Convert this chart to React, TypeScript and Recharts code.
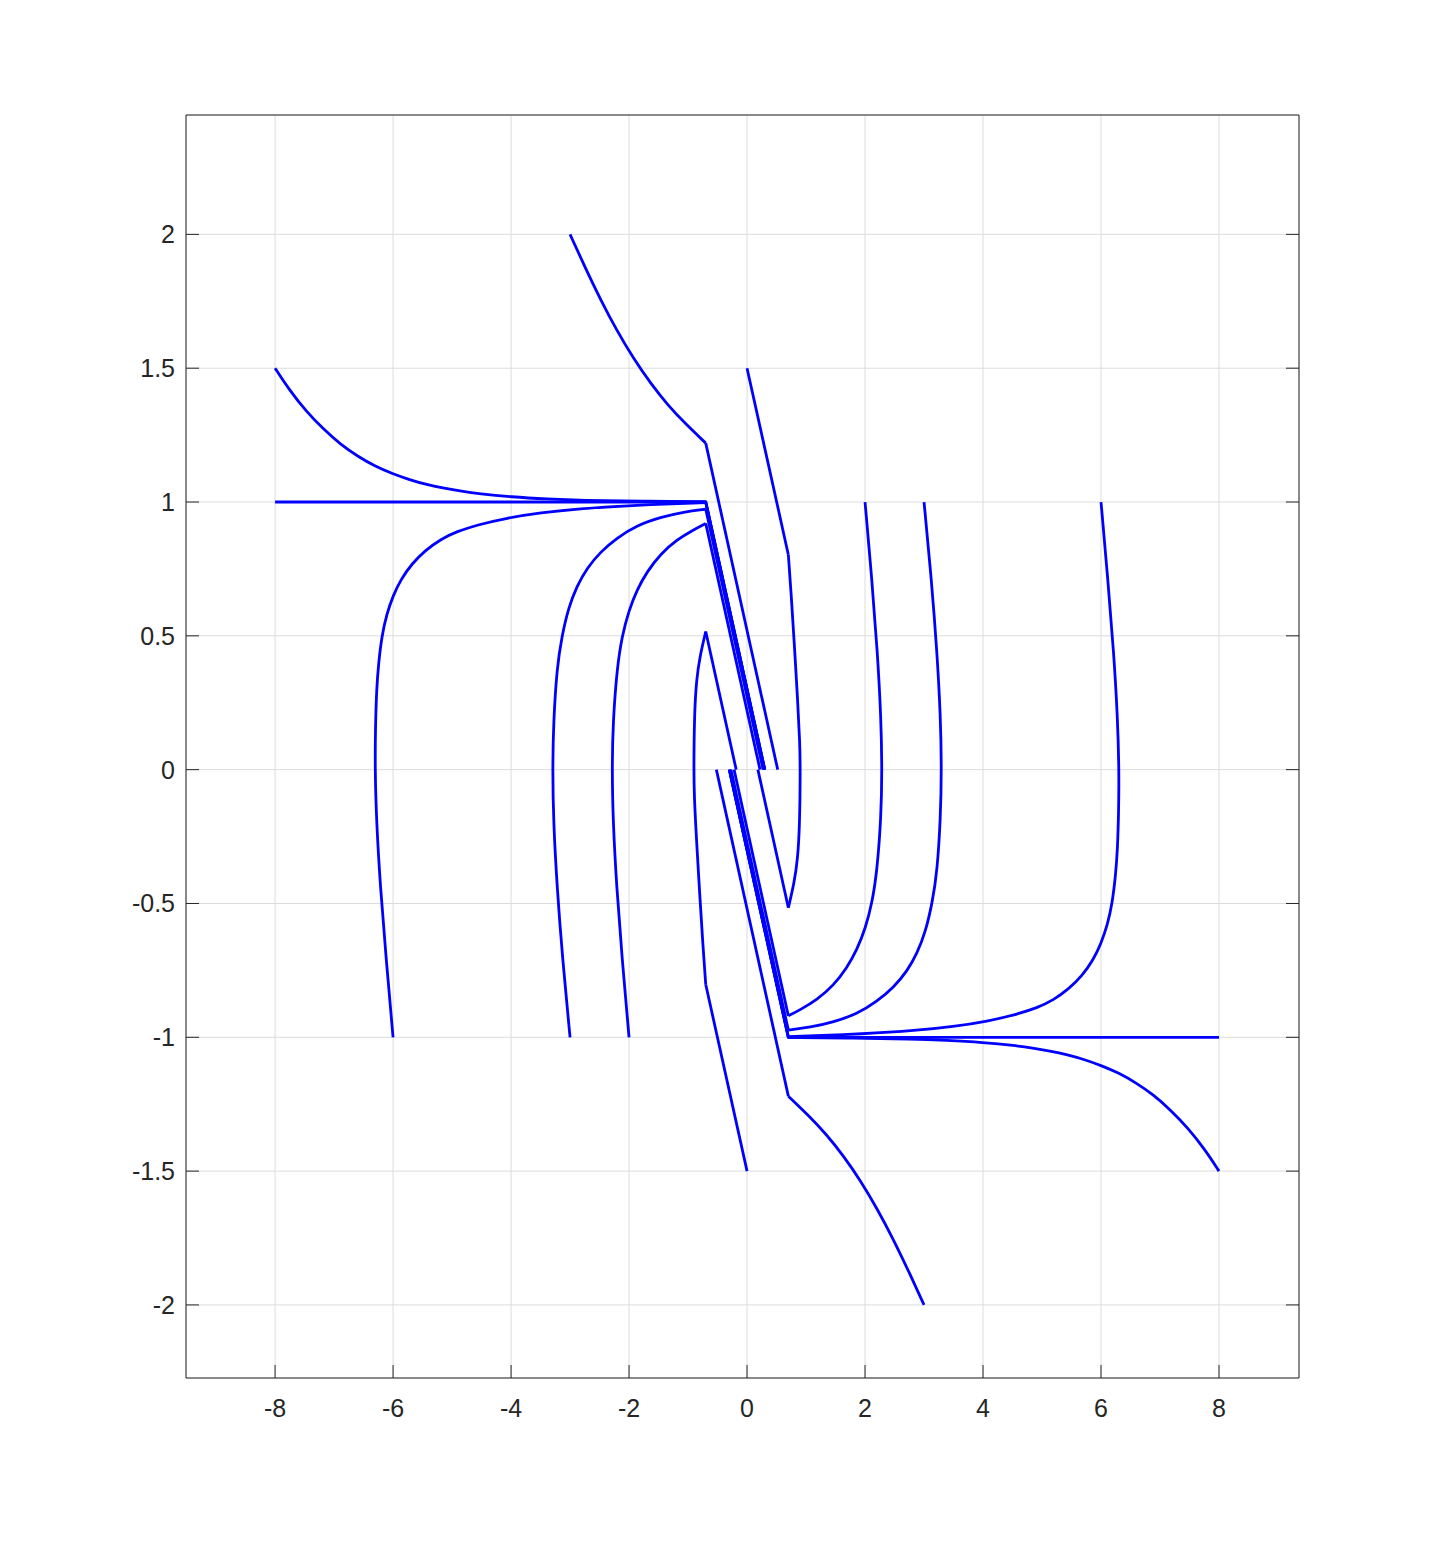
import React from 'react';
import { LineChart, Line, XAxis, YAxis, CartesianGrid } from 'recharts';

const xTicks = [-8, -6, -4, -2, 0, 2, 4, 6, 8];
const yTicks = [-2, -1.5, -1, -0.5, 0, 0.5, 1, 1.5, 2];

// upper-left trajectories: curved part, then the straight run down to y = 0
const aCurve = [[-8, 1.5], [-7.76, 1.419], [-7.47, 1.338], [-7.18, 1.272], [-6.885, 1.214], [-6.593, 1.17], [-6.3, 1.133], [-6.01, 1.106], [-5.72, 1.083], [-5.43, 1.065], [-5.13, 1.051], [-4.84, 1.04], [-4.55, 1.031], [-4.0, 1.019], [-3.38, 1.011], [-2.8, 1.006], [-1.8, 1.003], [-0.7, 1.001]];
const aTail = [[-0.7, 1.001], [0.301, 0]];
const bLine = [[-8, 1], [-0.7, 1], [0.3, 0]];
const cCurve = [[-6, -1], [-6.12, -0.7], [-6.215, -0.44], [-6.28, -0.2], [-6.306, 0], [-6.3, 0.15], [-6.28, 0.3], [-6.245, 0.4], [-6.19, 0.5], [-6.11, 0.58], [-6.0, 0.65], [-5.87, 0.71], [-5.68, 0.77], [-5.45, 0.82], [-5.2, 0.86], [-4.92, 0.89], [-4.56, 0.915], [-4.08, 0.94], [-3.5, 0.96], [-2.85, 0.975], [-2.03, 0.987], [-0.7, 0.998]];
const cTail = [[-0.7, 0.998], [0.298, 0]];
const dCurve = [[-3, -1], [-3.13, -0.7], [-3.22, -0.44], [-3.28, -0.2], [-3.297, 0], [-3.28, 0.179], [-3.224, 0.379], [-3.139, 0.499], [-3.025, 0.606], [-2.884, 0.686], [-2.714, 0.753], [-2.487, 0.813], [-2.204, 0.866], [-1.864, 0.913], [-1.467, 0.943], [-1.071, 0.963], [-0.7, 0.973]];
const dTail = [[-0.7, 0.973], [0.273, 0]];
const eCurve = [[-2, -1], [-2.12, -0.7], [-2.21, -0.44], [-2.27, -0.2], [-2.289, 0], [-2.272, 0.179], [-2.204, 0.379], [-2.119, 0.499], [-2.006, 0.593], [-1.864, 0.673], [-1.694, 0.74], [-1.467, 0.806], [-1.184, 0.86], [-0.901, 0.897], [-0.7, 0.92]];
const eTail = [[-0.7, 0.92], [0.22, 0]];
const fCurve = [[-3, 2], [-2.74, 1.874], [-2.478, 1.754], [-2.215, 1.644], [-1.923, 1.535], [-1.631, 1.442], [-1.339, 1.361], [-1.047, 1.293], [-0.7, 1.22]];
const fTail = [[-0.7, 1.22], [0.52, 0]];
const gHead = [[0, -1.5], [-0.7, -0.803]];
const gCurve = [[-0.7, -0.803], [-0.75, -0.65], [-0.8, -0.474], [-0.86, -0.25], [-0.895, -0.1], [-0.903, 0], [-0.892, 0.211], [-0.858, 0.335], [-0.8, 0.423], [-0.7, 0.516]];
const gTail = [[-0.7, 0.516], [-0.184, 0]];

// lower-right trajectories
const a2Curve = [[8, -1.5], [7.76, -1.419], [7.47, -1.338], [7.18, -1.272], [6.885, -1.214], [6.593, -1.17], [6.3, -1.133], [6.01, -1.106], [5.72, -1.083], [5.43, -1.065], [5.13, -1.051], [4.84, -1.04], [4.55, -1.031], [4.0, -1.019], [3.38, -1.011], [2.8, -1.006], [1.8, -1.003], [0.7, -1.001]];
const a2Tail = [[0.7, -1.001], [-0.301, 0]];
const b2Line = [[8, -1], [0.7, -1], [-0.3, 0]];
const c2Curve = [[6, 1], [6.12, 0.7], [6.215, 0.44], [6.28, 0.2], [6.306, 0], [6.3, -0.15], [6.28, -0.3], [6.245, -0.4], [6.19, -0.5], [6.11, -0.58], [6.0, -0.65], [5.87, -0.71], [5.68, -0.77], [5.45, -0.82], [5.2, -0.86], [4.92, -0.89], [4.56, -0.915], [4.08, -0.94], [3.5, -0.96], [2.85, -0.975], [2.03, -0.987], [0.7, -0.998]];
const c2Tail = [[0.7, -0.998], [-0.298, 0]];
const d2Curve = [[3, 1], [3.13, 0.7], [3.22, 0.44], [3.28, 0.2], [3.297, 0], [3.28, -0.179], [3.224, -0.379], [3.139, -0.499], [3.025, -0.606], [2.884, -0.686], [2.714, -0.753], [2.487, -0.813], [2.204, -0.866], [1.864, -0.913], [1.467, -0.943], [1.071, -0.963], [0.7, -0.973]];
const d2Tail = [[0.7, -0.973], [-0.273, 0]];
const e2Curve = [[2, 1], [2.12, 0.7], [2.21, 0.44], [2.27, 0.2], [2.289, 0], [2.272, -0.179], [2.204, -0.379], [2.119, -0.499], [2.006, -0.593], [1.864, -0.673], [1.694, -0.74], [1.467, -0.806], [1.184, -0.86], [0.901, -0.897], [0.7, -0.92]];
const e2Tail = [[0.7, -0.92], [-0.22, 0]];
const f2Curve = [[3, -2], [2.74, -1.874], [2.478, -1.754], [2.215, -1.644], [1.923, -1.535], [1.631, -1.442], [1.339, -1.361], [1.047, -1.293], [0.7, -1.22]];
const f2Tail = [[0.7, -1.22], [-0.52, 0]];
const g2Head = [[0, 1.5], [0.7, 0.803]];
const g2Curve = [[0.7, 0.803], [0.75, 0.65], [0.8, 0.474], [0.86, 0.25], [0.895, 0.1], [0.903, 0], [0.892, -0.211], [0.858, -0.335], [0.8, -0.423], [0.7, -0.516]];
const g2Tail = [[0.7, -0.516], [0.184, 0]];

const smoothPieces = [aCurve, cCurve, dCurve, eCurve, fCurve, gCurve, a2Curve, c2Curve, d2Curve, e2Curve, f2Curve, g2Curve];
const straightPieces = [aTail, bLine, cTail, dTail, eTail, fTail, gHead, gTail, a2Tail, b2Line, c2Tail, d2Tail, e2Tail, f2Tail, g2Head, g2Tail];

const FONT = "'Liberation Sans', Arial, Helvetica, sans-serif";
const INK = '#262626';
const TICK_LEN = 13;
const LABEL_SIZE = 25;

const toRows = (pts: number[][]) => pts.map(([x, y]) => ({ x, y }));

function BottomTick(props: any) {
  const { x, y, payload } = props;
  return (
    <g>
      <line x1={x} y1={y} x2={x} y2={y - TICK_LEN} stroke={INK} strokeWidth={1} />
      <text x={x} y={y + 30} textAnchor="middle" dominantBaseline="central" fill={INK} fontSize={LABEL_SIZE} fontFamily={FONT}>
        {payload.value}
      </text>
    </g>
  );
}

function LeftTick(props: any) {
  const { x, y, payload } = props;
  return (
    <g>
      <line x1={x} y1={y} x2={x + TICK_LEN} y2={y} stroke={INK} strokeWidth={1} />
      <text x={x - 11} y={y} textAnchor="end" dominantBaseline="central" fill={INK} fontSize={LABEL_SIZE} fontFamily={FONT}>
        {payload.value}
      </text>
    </g>
  );
}

function TopTick(props: any) {
  const { x, y } = props;
  return <line x1={x} y1={y} x2={x} y2={y + TICK_LEN} stroke={INK} strokeWidth={1} />;
}

function RightTick(props: any) {
  const { x, y } = props;
  return <line x1={x} y1={y} x2={x - TICK_LEN} y2={y} stroke={INK} strokeWidth={1} />;
}

export default function App() {
  const xDomain = [-9.51, 9.356];
  const yDomain = [-2.273, 2.446];

  return (
    <div style={{ position: 'absolute', left: 0, top: 0, width: 1436, height: 1549, background: '#fff' }}>
      <LineChart width={1436} height={1549} margin={{ top: 114, right: 136, bottom: 170, left: 185 }}>
        <CartesianGrid stroke="#dcdcdc" strokeWidth={1} />
        <XAxis
          type="number"
          dataKey="x"
          domain={xDomain}
          ticks={xTicks}
          allowDataOverflow
          interval={0}
          height={1}
          tickSize={0}
          tickMargin={0}
          tick={BottomTick}
          stroke={INK}
        />
        <XAxis
          xAxisId="top"
          orientation="top"
          type="number"
          domain={xDomain}
          ticks={xTicks}
          allowDataOverflow
          interval={0}
          height={1}
          tickSize={0}
          tickMargin={0}
          tick={TopTick}
          stroke={INK}
        />
        <YAxis
          type="number"
          domain={yDomain}
          ticks={yTicks}
          allowDataOverflow
          interval={0}
          width={1}
          tickSize={0}
          tickMargin={0}
          tick={LeftTick}
          stroke={INK}
        />
        <YAxis
          yAxisId="right"
          orientation="right"
          type="number"
          domain={yDomain}
          ticks={yTicks}
          allowDataOverflow
          interval={0}
          width={1}
          tickSize={0}
          tickMargin={0}
          tick={RightTick}
          stroke={INK}
        />
        {smoothPieces.map((pts, i) => (
          <Line
            key={`s-${i}`}
            data={toRows(pts)}
            dataKey="y"
            type="basis"
            stroke="#0000ff"
            strokeWidth={2.8}
            dot={false}
            isAnimationActive={false}
          />
        ))}
        {straightPieces.map((pts, i) => (
          <Line
            key={`l-${i}`}
            data={toRows(pts)}
            dataKey="y"
            type="linear"
            stroke="#0000ff"
            strokeWidth={2.8}
            dot={false}
            isAnimationActive={false}
          />
        ))}
      </LineChart>
    </div>
  );
}
